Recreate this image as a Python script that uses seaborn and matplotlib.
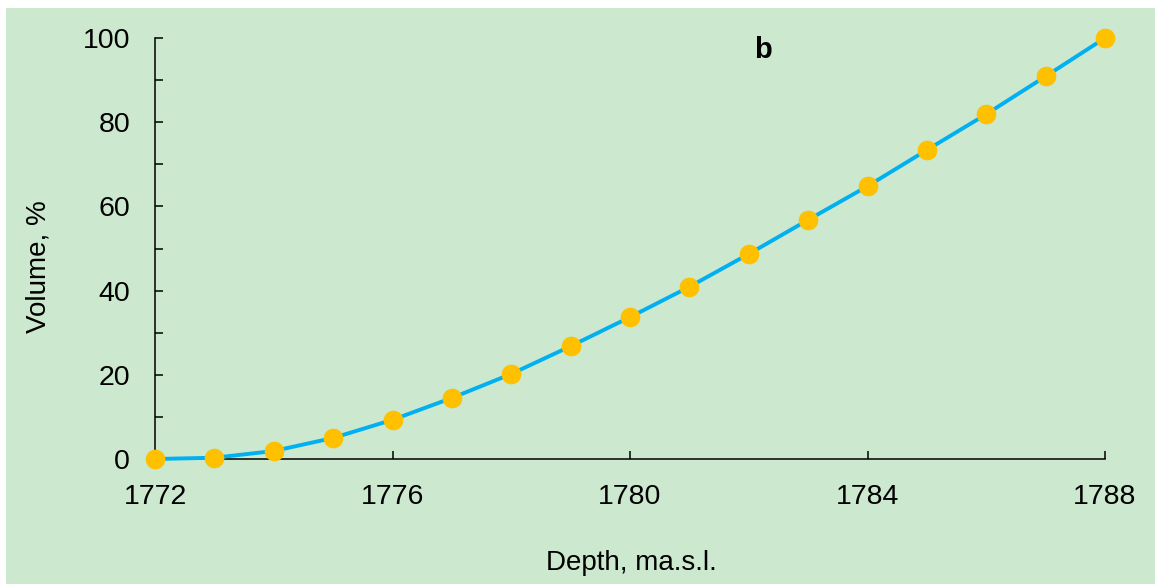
import matplotlib
matplotlib.use("Agg")
import matplotlib.pyplot as plt
from matplotlib.patches import Rectangle
from matplotlib.ticker import MultipleLocator
import seaborn as sns
import pandas as pd

depth = [1772, 1773, 1774, 1775, 1776, 1777, 1778, 1779, 1780,
         1781, 1782, 1783, 1784, 1785, 1786, 1787, 1788]
volume = [0.0, 0.3, 1.9, 5.0, 9.3, 14.5, 20.2, 26.8, 33.7,
          40.9, 48.7, 56.8, 64.8, 73.4, 81.9, 90.9, 100.0]
x_ticks = [1772, 1776, 1780, 1784, 1788]
y_ticks = [0, 20, 40, 60, 80, 100]

df = pd.DataFrame({"depth": depth, "volume": volume})

sns.set_style("ticks")
plt.rcParams["font.family"] = ["Liberation Sans", "DejaVu Sans"]

fig = plt.figure(figsize=(11.55, 5.84), dpi=100, facecolor="white")
fig.patches.append(Rectangle((6 / 1155, 0), 1 - 6 / 1155, 1 - 8 / 584,
                             transform=fig.transFigure, facecolor="#CCE8CF",
                             edgecolor="none", zorder=-10))
ax = fig.add_axes([155 / 1155, 1 - 459 / 584, 950 / 1155, 421 / 584])
ax.set_facecolor("none")

sns.lineplot(data=df, x="depth", y="volume", ax=ax, color="#00B0F0",
             linewidth=2.8, clip_on=False, zorder=3)
sns.scatterplot(data=df, x="depth", y="volume", ax=ax, color="#FFC000",
                s=200, linewidth=0, clip_on=False, zorder=4)

ax.set_xlim(1772, 1788)
ax.set_ylim(0, 100)
ax.set_xticks(x_ticks)
ax.set_yticks(y_ticks)
ax.yaxis.set_minor_locator(MultipleLocator(10))
ax.tick_params(axis="both", which="both", direction="in", length=6,
               width=1.1, color="black", labelsize=20.5, labelcolor="black")
ax.tick_params(axis="y", pad=18)
ax.tick_params(axis="x", pad=18)
for s in ["top", "right"]:
    ax.spines[s].set_visible(False)
for s in ["left", "bottom"]:
    ax.spines[s].set_linewidth(1.1)
    ax.spines[s].set_color("black")

ax.set_xlabel("Depth, ma.s.l.", fontsize=20, color="black")
ax.set_ylabel("Volume, %", fontsize=20, color="black")
ax.yaxis.label.set_va("center")
ax.xaxis.label.set_va("center")
ax.yaxis.set_label_coords(-0.123, 0.458)
ax.xaxis.set_label_coords(0.501, -0.247)

ax.text(0.64, 0.972, "b", transform=ax.transAxes, fontsize=21,
        fontweight="bold", ha="center", va="center", color="black")

fig.savefig("out.png", dpi=100, facecolor="white")
